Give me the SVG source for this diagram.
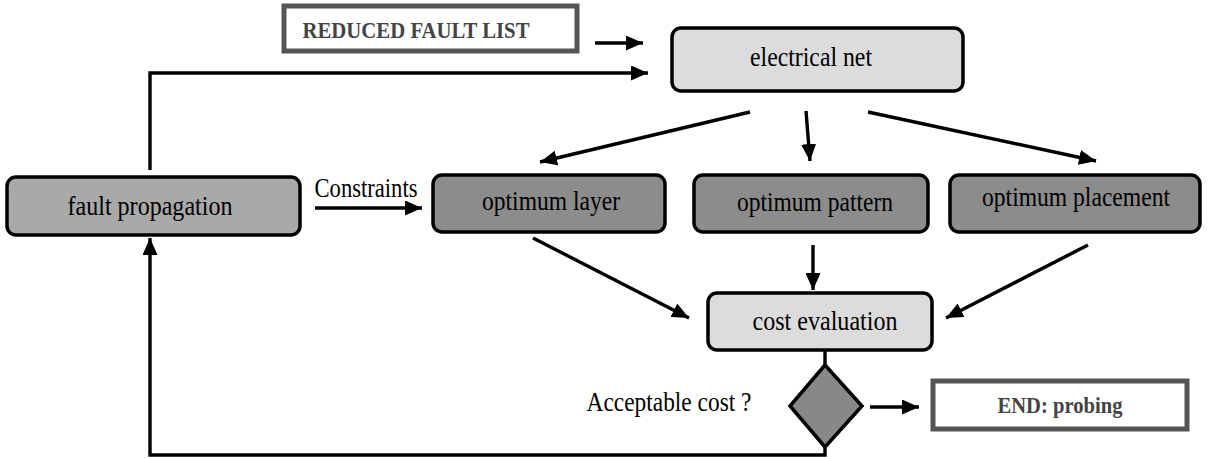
<svg xmlns="http://www.w3.org/2000/svg" width="1214" height="458" viewBox="0 0 1214 458">
<defs>
<marker id="ah" markerUnits="userSpaceOnUse" markerWidth="19" markerHeight="15" refX="17" refY="7.5" orient="auto">
<path d="M0,0 L17,7.5 L0,15 Z" fill="#000"/>
</marker>
<style>
.lbl{font-family:"Liberation Serif","Times New Roman",serif;font-size:27px;fill:#000;text-anchor:middle}
.bold{font-family:"Liberation Serif","Times New Roman",serif;font-size:24px;font-weight:bold;fill:#444;text-anchor:middle}
.light{fill:#dcdcdc;stroke:#000;stroke-width:3.5}
.mid{fill:#a9a9a9;stroke:#000;stroke-width:3.5}
.dark{fill:#8c8c8c;stroke:#000;stroke-width:3.5}
.term{fill:#fff;stroke:#555;stroke-width:5}
.con{fill:none;stroke:#000;stroke-width:3.4}
</style>
</defs>
<rect width="1214" height="458" fill="#fff"/>
<g id="connectors">
<path class="con" d="M595,43 L643,43" marker-end="url(#ah)"/>
<path class="con" d="M150,170 L150,73 L648,73" marker-end="url(#ah)"/>
<path class="con" d="M750,112 L540,162" marker-end="url(#ah)"/>
<path class="con" d="M806,111 L810,161" marker-end="url(#ah)"/>
<path class="con" d="M868,112 L1096,161" marker-end="url(#ah)"/>
<path class="con" d="M315,208 L422,208" marker-end="url(#ah)"/>
<path class="con" d="M533,238 L689,318" marker-end="url(#ah)"/>
<path class="con" d="M813,245 L813,290" marker-end="url(#ah)"/>
<path class="con" d="M1088,245 L946,318" marker-end="url(#ah)"/>
<path class="con" d="M825,350 L825,365"/>
<path class="con" d="M870,407 L919,407" marker-end="url(#ah)"/>
<path class="con" d="M825,447 L825,455 L150,455 L150,238" marker-end="url(#ah)"/>
</g>
<g id="reduced">
<rect class="term" x="284" y="6" width="293" height="45"/>
<text class="bold" x="416" y="38" textLength="227" lengthAdjust="spacingAndGlyphs">REDUCED FAULT LIST</text>
</g>
<g id="electrical">
<rect class="light" x="672" y="28" width="291" height="63" rx="9"/>
<text class="lbl" x="811" y="66" textLength="122" lengthAdjust="spacingAndGlyphs">electrical net</text>
</g>
<g id="fault">
<rect class="mid" x="7" y="177" width="293" height="58" rx="9"/>
<text class="lbl" x="150" y="215" textLength="165" lengthAdjust="spacingAndGlyphs">fault propagation</text>
</g>
<g id="constraints-label">
<text class="lbl" x="366" y="197" textLength="103" lengthAdjust="spacingAndGlyphs">Constraints</text>
</g>
<g id="layer">
<rect class="dark" x="433" y="175" width="232" height="57" rx="9"/>
<text class="lbl" x="551" y="210" textLength="138" lengthAdjust="spacingAndGlyphs">optimum layer</text>
</g>
<g id="pattern">
<rect class="dark" x="694" y="175" width="234" height="57" rx="9"/>
<text class="lbl" x="815" y="211" textLength="156" lengthAdjust="spacingAndGlyphs">optimum pattern</text>
</g>
<g id="placement">
<rect class="dark" x="950" y="175" width="250" height="57" rx="9"/>
<text class="lbl" x="1076" y="206" textLength="188" lengthAdjust="spacingAndGlyphs">optimum placement</text>
</g>
<g id="cost">
<rect class="light" x="708" y="293" width="224" height="57" rx="9"/>
<text class="lbl" x="825" y="330" textLength="145" lengthAdjust="spacingAndGlyphs">cost evaluation</text>
</g>
<g id="decision">
<polygon points="825,365 862,406 825,447 790,406" fill="#888" stroke="#000" stroke-width="3.5" stroke-linejoin="miter"/>
<text class="lbl" x="669" y="411" textLength="165" lengthAdjust="spacingAndGlyphs">Acceptable cost ?</text>
</g>
<g id="end">
<rect class="term" x="933" y="381" width="254" height="48"/>
<text class="bold" x="1060" y="413" textLength="125" lengthAdjust="spacingAndGlyphs">END: probing</text>
</g>
</svg>
